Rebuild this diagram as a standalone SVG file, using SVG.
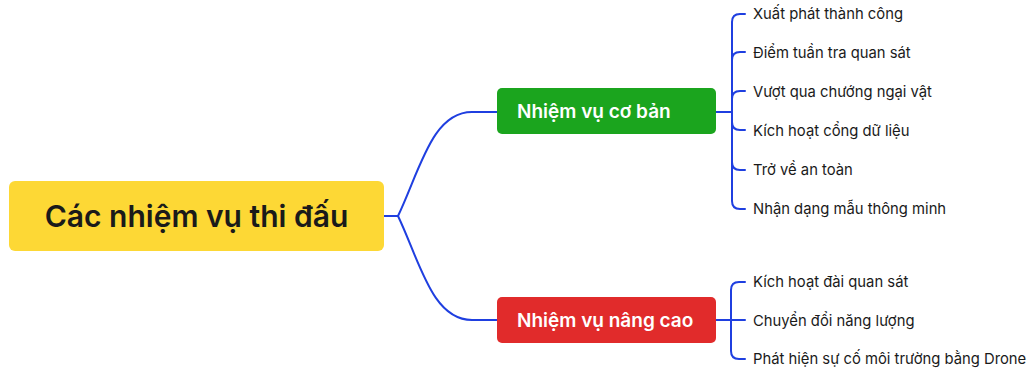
<svg xmlns="http://www.w3.org/2000/svg" width="1029" height="372" viewBox="0 0 1029 372">
<style>
.lnk{fill:none;stroke:#1F3FE0;stroke-width:2;stroke-linecap:round;stroke-linejoin:round}
.t{font-family:Inter,"Noto Sans",sans-serif}
.root{font-size:30px;font-weight:600;fill:#1a1a1a}
.mid{font-size:19px;font-weight:600;fill:#ffffff}
.leaf{font-size:14.8px;fill:#1a1a1a}
</style>
<rect width="1029" height="372" fill="#ffffff"/>
<g id="connectors">
<path class="lnk" d="M384,216 L398,216 C420,170 432,112 472,112 L497,112"/>
<path class="lnk" d="M398,216 C420,262 432,320 472,320 L497,320"/>
<path class="lnk" d="M716,112 L732,112"/>
<path class="lnk" d="M745,14 L740,14 Q732,14 732,22 L732,201 Q732,209 740,209 L745,209"/>
<path class="lnk" d="M732,60 Q732,52 740,52 L745,52"/>
<path class="lnk" d="M732,99 Q732,91 740,91 L745,91"/>
<path class="lnk" d="M732,122 Q732,130 740,130 L745,130"/>
<path class="lnk" d="M732,162 Q732,170 740,170 L745,170"/>
<path class="lnk" d="M716,320 L745,320"/>
<path class="lnk" d="M745,282 L739,282 Q731,282 731,290 L731,351 Q731,359 739,359 L745,359"/>
</g>
<g id="root">
<rect x="9" y="181" width="375" height="70" rx="6" fill="#FDD835"/>
<text class="t root" x="196.5" y="216" text-anchor="middle" dominant-baseline="central">Các nhiệm vụ thi đấu</text>
</g>
<g id="basic">
<rect x="497" y="88" width="219" height="46" rx="5" fill="#1BA51E"/>
<text class="t mid" x="517" y="111.5" dominant-baseline="central">Nhiệm vụ cơ bản</text>
</g>
<g id="advanced">
<rect x="497" y="297" width="219" height="46" rx="5" fill="#E12B2B"/>
<text class="t mid" x="517" y="320.5" dominant-baseline="central">Nhiệm vụ nâng cao</text>
</g>
<g id="leaf1"><text class="t leaf" x="753" y="14" dominant-baseline="central">Xuất phát thành công</text></g>
<g id="leaf2"><text class="t leaf" x="753" y="53" dominant-baseline="central">Điểm tuần tra quan sát</text></g>
<g id="leaf3"><text class="t leaf" x="753" y="92" dominant-baseline="central">Vượt qua chướng ngại vật</text></g>
<g id="leaf4"><text class="t leaf" x="753" y="131" dominant-baseline="central">Kích hoạt cổng dữ liệu</text></g>
<g id="leaf5"><text class="t leaf" x="753" y="170" dominant-baseline="central">Trở về an toàn</text></g>
<g id="leaf6"><text class="t leaf" x="753" y="209" dominant-baseline="central">Nhận dạng mẫu thông minh</text></g>
<g id="leaf7"><text class="t leaf" x="753" y="282" dominant-baseline="central">Kích hoạt đài quan sát</text></g>
<g id="leaf8"><text class="t leaf" x="753" y="321" dominant-baseline="central">Chuyển đổi năng lượng</text></g>
<g id="leaf9"><text class="t leaf" x="753" y="359" dominant-baseline="central">Phát hiện sự cố môi trường bằng Drone</text></g>
</svg>
